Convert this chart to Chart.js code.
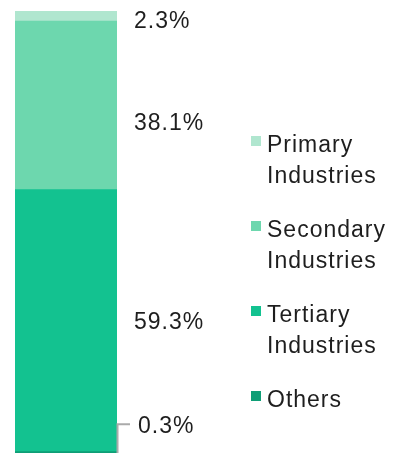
<!DOCTYPE html>
<html lang="en">
<head>
<meta charset="utf-8">
<title>Industry share</title>
<script src="https://cdn.jsdelivr.net/npm/chart.js"></script>
<style>
  html, body { margin: 0; padding: 0; background: #fff; }
  #wrap { width: 414px; height: 458px; }
</style>
</head>
<body>
<div id="wrap"><canvas id="shareChart" width="414" height="458"></canvas></div>
<script>
// data, bottom of the stack first
const categories = ['Share'];
const seriesNames = ['Others', 'Tertiary Industries', 'Secondary Industries', 'Primary Industries'];
const seriesValues = [0.3, 59.3, 38.1, 2.3];
const seriesColors = ['#0f9e76', '#13c290', '#6dd7ae', '#b0e6cf'];

const FONT = '23px "Liberation Sans", Arial, sans-serif';

// value labels to the right of the bar
const labelPlugin = {
  id: 'shareLabels',
  afterDatasetsDraw(chart) {
    const ctx = chart.ctx;
    const area = chart.chartArea;
    ctx.save();
    ctx.font = FONT;
    ctx.letterSpacing = '1px';
    ctx.fillStyle = '#1e1e1e';
    ctx.textBaseline = 'middle';
    ctx.textAlign = 'left';
    const shift = [0, 2, 18, 6];
    seriesValues.forEach((v, i) => {
      const bar = chart.getDatasetMeta(i).data[0];
      const mid = (bar.y + bar.base) / 2;
      const txt = v.toFixed(1) + '%';
      if (i === 0) {
        // tiny slice: leader line
        const ly = mid - 28;
        ctx.strokeStyle = '#aaa';
        ctx.lineWidth = 2;
        ctx.beginPath();
        ctx.moveTo(area.right + 0.5, area.bottom);
        ctx.lineTo(area.right + 0.5, ly);
        ctx.lineTo(area.right + 13, ly);
        ctx.stroke();
        ctx.fillText(txt, area.right + 21, ly + 2);
      } else {
        ctx.fillText(txt, area.right + 17, mid + shift[i]);
      }
    });
    ctx.restore();
  }
};

// legend, top entry = top of the stack
const legendPlugin = {
  id: 'sideLegend',
  afterDraw(chart) {
    const ctx = chart.ctx;
    ctx.save();
    ctx.font = FONT;
    ctx.letterSpacing = '1px';
    ctx.textBaseline = 'alphabetic';
    const x = 251;
    let y = 152;
    for (let i = seriesNames.length - 1; i >= 0; i--) {
      const lines = seriesNames[i].split(' ');
      ctx.fillStyle = seriesColors[i];
      ctx.fillRect(x, y - 16, 10, 10);
      ctx.fillStyle = '#1e1e1e';
      lines.forEach((ln, k) => ctx.fillText(ln, x + 16, y + k * 31));
      y += lines.length * 31 + 23;
    }
    ctx.restore();
  }
};

new Chart(document.getElementById('shareChart'), {
  type: 'bar',
  data: {
    labels: categories,
    datasets: seriesNames.map((name, i) => ({
      label: name,
      data: [seriesValues[i]],
      backgroundColor: seriesColors[i],
      borderWidth: 0,
      barPercentage: 1,
      categoryPercentage: 1
    }))
  },
  options: {
    responsive: false,
    animation: false,
    layout: { padding: { left: 15, right: 297, top: 11, bottom: 5 } },
    plugins: { legend: { display: false }, tooltip: { enabled: false } },
    scales: {
      x: { stacked: true, display: false },
      y: { stacked: true, display: false, min: 0, max: 100 }
    }
  },
  plugins: [labelPlugin, legendPlugin]
});
</script>
</body>
</html>
